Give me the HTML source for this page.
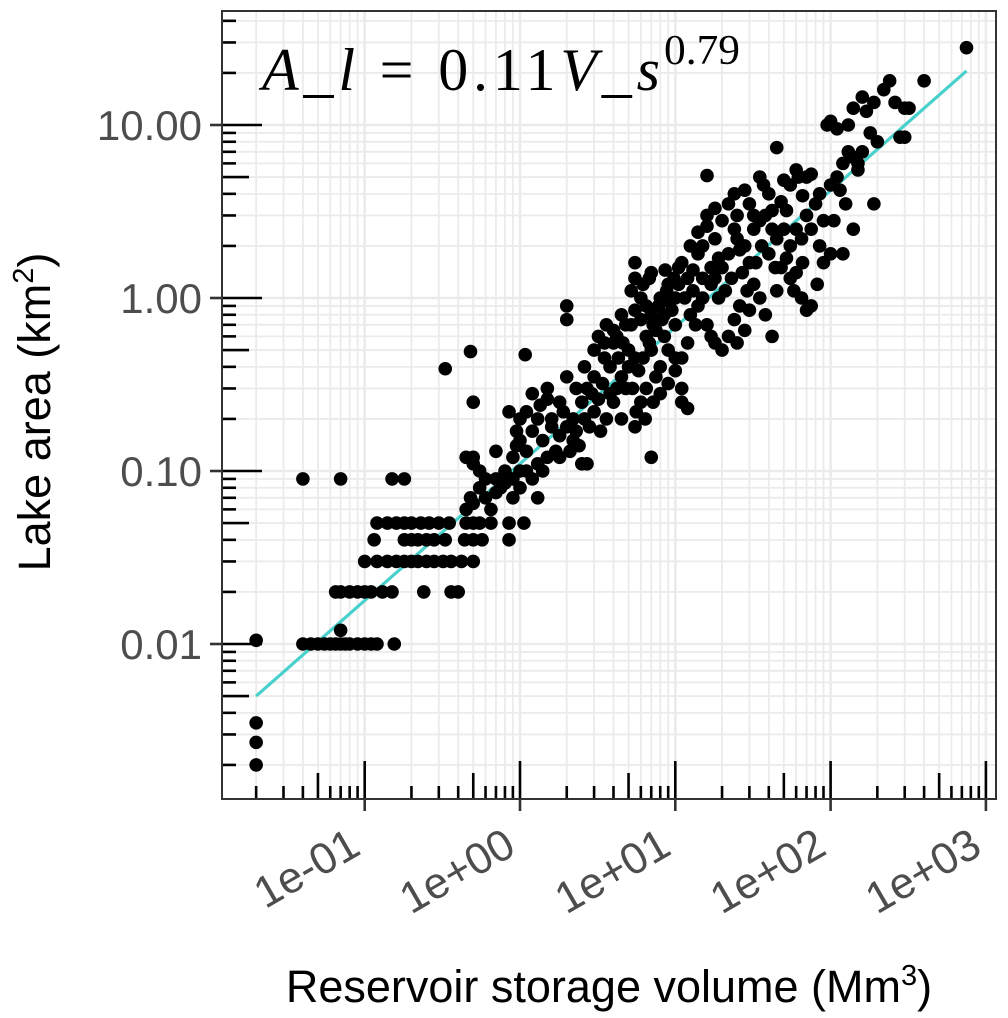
<!DOCTYPE html>
<html><head><meta charset="utf-8"><style>
html,body{margin:0;padding:0;background:#fff}
svg{display:block}
.sans{font-family:"Liberation Sans",Arial,sans-serif}
.serif{font-family:"Liberation Serif","DejaVu Serif",serif}
</style></head><body>
<svg id="chart" width="1008" height="1018" viewBox="0 0 1008 1018" xmlns="http://www.w3.org/2000/svg">
<rect x="0" y="0" width="1008" height="1018" fill="#fff"/>
<g id="grid"></g>
<g id="logticks"></g>
<line id="fit" stroke="#48d1cc" stroke-width="3.2"/>
<g id="points"></g>
<rect x="222" y="11" width="774" height="788" fill="none" stroke="#333" stroke-width="2"/>
<g id="axes"></g>
<g>
<text class="serif" x="262" y="90" font-size="60" fill="#000" textLength="398" lengthAdjust="spacing"><tspan font-style="italic">A</tspan>_<tspan font-style="italic">l</tspan> = 0.11<tspan font-style="italic">V</tspan>_<tspan font-style="italic">s</tspan></text>
<text class="serif" x="664" y="64" font-size="42" fill="#000" textLength="76" lengthAdjust="spacingAndGlyphs">0.79</text>
</g>
<text class="sans" x="609" y="1002" text-anchor="middle" font-size="45" fill="#000">Reservoir storage volume (Mm<tspan dy="-17" font-size="29">3</tspan><tspan dy="17">)</tspan></text>
<text class="sans" transform="translate(50,412) rotate(-90)" text-anchor="middle" font-size="45" fill="#000">Lake area (km<tspan dy="-17" font-size="29">2</tspan><tspan dy="17">)</tspan></text>
</svg>
<script>
const volume = [0.02,0.02,0.02,0.02,0.04,0.07,0.15,0.18,
0.04,0.045,0.05,0.055,0.06,0.065,0.07,0.075,0.08,0.09,0.1,0.11,0.12,0.155,0.07,
0.065,0.07,0.08,0.09,0.1,0.11,0.13,0.15,0.24,0.36,0.4,
0.1,0.12,0.14,0.16,0.18,0.2,0.22,0.25,0.28,0.32,0.36,0.42,0.5,
0.115,0.18,0.2,0.22,0.25,0.28,0.33,0.44,0.5,0.57,0.85,
0.12,0.14,0.16,0.18,0.2,0.23,0.26,0.3,0.35,0.45,0.5,0.55,0.65,0.85,1.06,
0.33,0.48,1.08,0.5,
0.45,0.48,0.5,0.55,0.6,0.45,0.5,0.55,0.5,0.7,0.8,0.9,1.0,1.3,0.65,0.75,1.1,0.9,1.0,0.85,1.0,1.2,1.4,1.2,1.5,1.1,0.95,1.5,1.3,1.6,1.9,2.0,2.0,1.6,1.8,2.2,2.5,2.2,2.5,2.7,2.4,2.8,3.0,3.2,2.7,3.0,3.5,3.8,4,4.2,4.5,5,5.2,5.5,5.5,5.5,6,6.5,7,4.8,4.0,3.6,3.3,4.5,5.5,6,7,6.5,7.5,8,8.5,9,10,11,12,11,10,10,9,8,7,6.5,7,5.5,4.8,6,7.5,8.5,9.5,11,10.5,12,13,14,15,16,17,18,20,22,24,26,28,25,30,32,35,38,42,45,48,55,60,65,70,75,82,90,100,18,20,22,25,28,32,35,38,42,45,50,55,40,30,14,15,16,18,20,16,28,25,30,32,45,35,50,60,70,75,80,85,100,110,120,130,140,150,115,125,105,90,95,100,110,130,140,160,170,190,220,240,260,300,280,300,320,400,750,200,180,160,150,190,140,120,
1.5,1.8,2,2.3,2.6,3,3.2,3.6,4,4.3,4.6,5,5.3,5.8,6.2,6.8,7.2,7.8,8.2,8.8,9.2,9.8,10.5,11.5,12.5,13.5,12,11,10,9,8,7.2,6.4,5.6,4.2,3.8,3.4,2.9,2.6,2.3,2,1.7,1.4,1.2,1.0,0.9,0.8,0.7,0.6,1.8,2.1,3.5,4.5,5.2,6.2,6.8,8.6,13,15,17,19,21,23,27,29,33,36,44,52,58,66,26,24,19,17,12.5,14,16,18,22,24,37,40,55,62,66,48,52,70,75,85,60,65,42,0.95,1.1,1.3,1.35,0.7];
const area = [0.0105,0.0035,0.0027,0.002,0.09,0.09,0.09,0.09,
0.01,0.01,0.01,0.01,0.01,0.01,0.01,0.01,0.01,0.01,0.01,0.01,0.01,0.01,0.012,
0.02,0.02,0.02,0.02,0.02,0.02,0.02,0.02,0.02,0.02,0.02,
0.03,0.03,0.03,0.03,0.03,0.03,0.03,0.03,0.03,0.03,0.03,0.03,0.03,
0.04,0.04,0.04,0.04,0.04,0.04,0.04,0.04,0.04,0.04,0.04,
0.05,0.05,0.05,0.05,0.05,0.05,0.05,0.05,0.05,0.05,0.05,0.05,0.05,0.05,0.05,
0.39,0.49,0.47,0.25,
0.06,0.07,0.065,0.08,0.07,0.12,0.12,0.1,0.11,0.09,0.1,0.09,0.08,0.07,0.06,0.08,0.1,0.12,0.15,0.22,0.2,0.17,0.15,0.28,0.26,0.13,0.14,0.12,0.11,0.2,0.22,0.9,0.75,0.18,0.16,0.2,0.25,0.15,0.11,0.11,0.14,0.18,0.22,0.26,0.3,0.35,0.45,0.4,0.55,0.6,0.35,0.5,0.7,0.85,1.6,1.3,1.0,0.9,0.8,0.3,0.25,0.2,0.17,0.2,0.18,0.25,0.12,0.3,0.35,0.4,0.6,0.5,0.45,0.3,0.23,0.25,0.7,1.0,1.2,1.0,1.4,0.6,0.5,0.45,0.7,0.75,0.65,0.8,0.85,1.6,1.5,1.3,1.1,0.9,1.0,0.7,0.6,0.55,0.5,0.6,0.75,0.9,0.65,0.55,0.85,1.2,1.0,0.8,0.6,1.1,1.5,1.3,1.4,1.0,0.85,0.9,1.2,1.6,1.8,1.3,1.5,1.8,2.2,2.0,2.5,2.8,3.0,3.2,2.2,2.5,2.0,1.8,1.6,1.8,2.0,2.6,2.2,2.8,5.1,4.2,3.0,3.5,3.0,7.4,5.0,4.8,5.5,5.0,5.2,3.5,4.0,4.5,5.0,6.0,7.0,6.5,6.0,4.2,3.5,2.8,2.8,10,10.5,9.5,10,12.5,14.5,12,13.5,16,18,13.5,12.5,8.5,8.5,12.5,18,28,8,9,7,5.5,3.5,2.5,1.8,
0.3,0.25,0.35,0.3,0.4,0.5,0.6,0.7,0.65,0.45,0.55,0.4,0.3,0.38,0.45,0.55,0.7,0.9,0.75,1.1,0.95,1.3,1.2,1.0,0.8,0.7,0.55,0.45,0.38,0.32,0.28,0.25,0.2,0.22,0.3,0.28,0.32,0.28,0.2,0.17,0.18,0.13,0.1,0.09,0.1,0.07,0.085,0.075,0.09,0.12,0.13,0.55,0.8,1.1,1.2,1.3,1.45,1.45,1.3,1.2,1.0,1.1,1.3,1.4,1.1,1.6,2.0,1.5,1.7,1.1,1.6,1.9,2.5,1.7,1.5,2.0,2.4,3.0,3.3,3.5,4.0,4.5,4.0,4.5,5.0,3.9,3.6,3.2,3.0,2.5,2.0,2.5,2.2,2.5,0.17,0.22,0.2,0.24,0.13];
const fitCoef = [0.11];
const fitExp = [0.79];
const fitRange = [0.02, 750];
const xTickValues = [0.1,1,10,100,1000];
const xTickLabels = ["1e-01","1e+00","1e+01","1e+02","1e+03"];
const yTickValues = [10,1,0.1,0.01];
const yTickLabels = ["10.00","1.00","0.10","0.01"];

const NS="http://www.w3.org/2000/svg";
const L=222,R=996,T=11,B=799;
function X(v){return 520+155.3*Math.log10(v);}
function Y(a){return 298-173*Math.log10(a);}
function mk(tag,attrs,parent){const e=document.createElementNS(NS,tag);for(const k in attrs)e.setAttribute(k,attrs[k]);parent.appendChild(e);return e;}
const grid=document.getElementById('grid'),lt=document.getElementById('logticks'),axes=document.getElementById('axes'),pts=document.getElementById('points');
for(let d=-3;d<=3;d++){for(let m=1;m<=9;m++){const v=m*Math.pow(10,d);
  const x=X(v);
  if(x>L&&x<R){const ln=mk('line',{x1:x,x2:x,y1:T,y2:B,stroke:'#ebebeb','stroke-width':m===1?2.6:1.8},grid);
    
    const len=m===1?38:(m===5?26:13);
    const tk=mk('line',{x1:x,x2:x,y1:B,y2:B-len,stroke:'#000','stroke-width':2.6},lt);
    }
  const y=Y(v);
  if(y>T&&y<B){const ln=mk('line',{x1:L,x2:R,y1:y,y2:y,stroke:'#ebebeb','stroke-width':m===1?2.6:1.8},grid);
    
    const len=m===1?40:(m===5?27:14);
    const tk=mk('line',{x1:L,x2:L+len,y1:y,y2:y,stroke:'#000','stroke-width':2.6},lt);
    }
}}
const fit=document.getElementById('fit');
fit.setAttribute('x1',X(fitRange[0]));fit.setAttribute('y1',Y(fitCoef[0]*Math.pow(fitRange[0],fitExp[0])));
fit.setAttribute('x2',X(fitRange[1]));fit.setAttribute('y2',Y(fitCoef[0]*Math.pow(fitRange[1],fitExp[0])));
for(let i=0;i<volume.length;i++){
  const c=mk('circle',{cx:X(volume[i]),cy:Y(area[i]),r:6.8,fill:'#000'},pts);
  
  
}
xTickValues.forEach((v,i)=>{const x=X(v);
  const t=mk('line',{x1:x,x2:x,y1:B,y2:B+12,stroke:'#333','stroke-width':2.6},axes);
  
  const tx=mk('text',{class:'sans',transform:`translate(${x-2},853) rotate(-30)`,'text-anchor':'end','font-size':44,fill:'#4d4d4d'},axes);
  tx.textContent=xTickLabels[i];
  
});
yTickValues.forEach((v,i)=>{const y=Y(v);
  const t=mk('line',{x1:L-12,x2:L,y1:y,y2:y,stroke:'#333','stroke-width':2.6},axes);
  
  const tx=mk('text',{class:'sans',x:202,y:y+15,'text-anchor':'end','font-size':42,fill:'#4d4d4d'},axes);
  tx.textContent=yTickLabels[i];
  
});
</script>
</body></html>
